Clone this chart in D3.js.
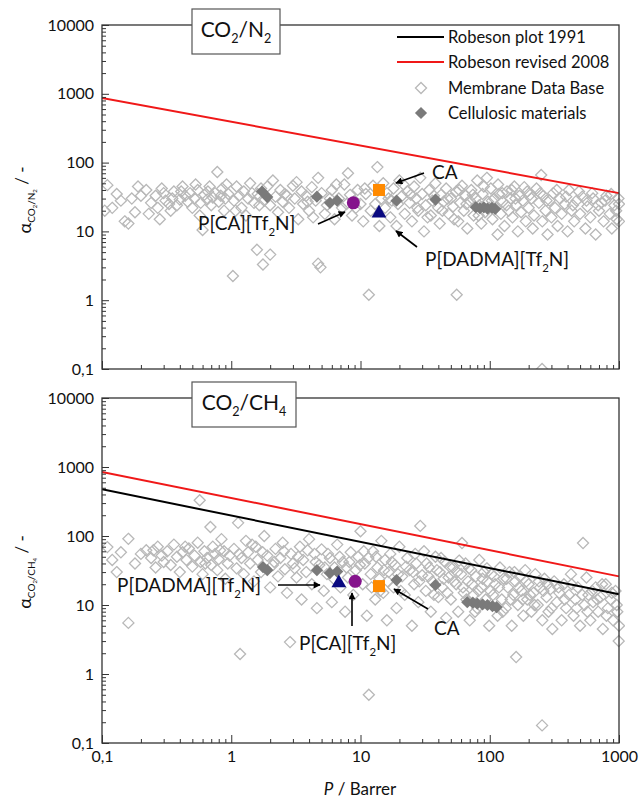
<!DOCTYPE html>
<html>
<head>
<meta charset="utf-8">
<script src="https://cdn.jsdelivr.net/npm/d3@7"></script>
<style>
  body { margin: 0; background: #fff; }
  svg text { font-family: Lato, "Open Sans", sans-serif; fill: #111; }
</style>
</head>
<body>
<svg id="chart" width="640" height="800"></svg>
<script>
// x domain and tick values
var xTicks = [0.1, 1, 10, 100, 1000];
var yTicks = [0.1, 1, 10, 100, 1000, 10000];

// Robeson upper bounds, endpoints [P, alpha]
var robeson2008N2 = [[0.1, 870], [1000, 36]];
var robeson2008CH4 = [[0.1, 850], [1000, 26]];
var robeson1991CH4 = [[0.1, 475], [1000, 14.3]];

// membrane data base, CO2/N2  [P, alpha]
var dbN2 = [
  [0.11,47],[0.12,22],[0.13,35],[0.14,28],[0.15,14],[0.16,13],[0.17,30],[0.18,19],[0.2,33],[0.22,40],
  [0.24,26],[0.26,33],[0.27,22],[0.28,15],[0.3,36],[0.31,28],[0.33,25],[0.35,30],[0.36,38],[0.38,24],
  [0.4,29],[0.42,45],[0.44,33],[0.46,27],[0.48,36],[0.5,22],[0.52,30],[0.55,40],[0.58,26],[0.6,10.5],
  [0.62,34],[0.65,29],[0.68,45],[0.7,24],[0.72,31],[0.75,36],[0.78,73],[0.8,27],[0.85,42],[0.88,20],
  [0.9,30],[0.95,35],
  [1.03,2.25],[1.05,28],[1.1,45],[1.15,33],[1.2,22],[1.25,38],[1.3,17],[1.35,30],[1.4,50],[1.5,26],
  [1.58,5.4],[1.6,35],[1.7,42],[1.76,3.3],[1.8,28],[2.0,4.6],[2.0,24],[2.1,55],[2.2,32],[2.3,19],
  [2.4,40],[2.5,27],[2.6,35],[2.8,22],[3.0,46],[3.1,30],[3.3,15],[3.5,38],[3.6,25],[3.8,33],
  [4.0,20],[4.2,44],[4.5,28],[4.7,60],[4.7,3.4],[4.9,3.0],[5.0,36],[5.3,18],[5.5,24],[6.0,40],
  [6.3,15],[6.8,30],[7.2,22],[7.5,48],[8.0,70],[8.3,34],[8.6,17],[9.0,28],[9.5,40],
  [10,25],[10.5,14],[11,35],[11.6,1.2],[12,20],[12.5,46],[13.5,86],[14,12],[14.5,30],[15,50],
  [15.5,22],[16,36],[17,16],[17.5,28],[18,42],[19,12],[19.5,25],[20,55],[21,33],[22,18],
  [23,38],[24,26],[25,14],[26,45],[27,30],[28,20],[29,60],[30,35],[31,10],[32,24],
  [34,40],[35,17],[36,28],[38,50],[40,22],[41,13],[42,34],[44,27],[46,42],[48,18],
  [50,30],[52,23],[55.5,1.2],[55,38],[57,14],[59,26],[61,46],[63,20],[65,33],[67,11],
  [70,28],[72,40],[75,17],[78,30],[80,55],[83,24],[86,13],[88,35],[92,19],[95,60],[97,27],
  [102,42],[105,15],[108,30],[112,22],[115,9],[118,35],[122,18],[126,27],[130,12],[136,38],
  [140,20],[145,30],[150,16],[155,45],[160,24],[165,10],[170,33],[175,19],[180,28],[190,14],
  [195,38],[200,22],[210,30],[215,11],[220,17],[230,42],[240,26],[250,66],[254,0.1],[255,14],
  [260,33],[270,20],[280,9],[290,28],[300,16],[310,36],[320,22],[335,12],[350,30],[360,18],
  [380,25],[400,10],[410,40],[430,20],[450,14],[470,28],[500,18],[520,32],[550,11],[570,23],
  [600,16],[630,30],[660,9],[700,20],[730,26],[760,14],[800,33],[850,18],[880,11],[920,24],
  [960,15],[990,30],
  [0.105,20],[0.19,45],[0.23,18],[0.29,42],[0.34,20],[0.41,38],[0.53,48],[0.57,17],[0.66,38],[0.83,33],
  [0.92,48],[1.08,20],[1.45,36],[1.65,24],[1.9,45],[2.7,33],[3.2,52],[3.9,27],[4.3,16],[5.8,30],
  [6.5,48],[7.8,25],[9.2,22],[10.8,42],[13,25],[16.5,30],[21.5,48],[24.5,34],[27.5,22],[33,16],
  [37,33],[43,20],[47,30],[53,15],[58,40],[66,25],[74,34],[82,17],[90,45],[99,22],
  [104,28],[116,48],[125,36],[135,24],[148,40],[158,30],[185,44],[205,34],[245,36],[275,28],
  [330,40],[390,32],[440,24],[490,38],[560,28],[620,36],[690,24],[780,28],[870,35],[950,20],
  [1000,25],[1000,14]
];

// membrane data base, CO2/CH4  [P, alpha]
var dbCH4 = [
  [0.11,69],[0.12,45],[0.14,58],[0.16,91],[0.16,5.5],[0.18,40],[0.2,55],[0.22,62],[0.24,48],[0.26,35],
  [0.27,70],[0.29,52],[0.3,42],[0.32,60],[0.34,38],[0.36,75],[0.38,50],[0.4,30],[0.42,58],[0.45,45],
  [0.47,66],[0.5,36],[0.52,52],[0.55,80],[0.57,330],[0.58,42],[0.6,28],[0.62,60],[0.65,48],[0.69,135],
  [0.7,38],[0.72,70],[0.75,55],[0.78,32],[0.8,46],[0.84,90],[0.88,60],[0.9,24],[0.94,40],[0.97,52],
  [1.05,65],[1.1,34],[1.13,155],[1.17,1.95],[1.2,48],[1.25,28],[1.3,85],[1.35,58],[1.4,40],[1.5,22],
  [1.55,70],[1.6,45],[1.7,30],[1.8,100],[1.9,52],[2.0,18],[2.1,38],[2.2,65],[2.3,26],[2.4,48],
  [2.5,80],[2.6,33],[2.7,15],[2.85,2.9],[2.9,55],[3.0,40],[3.2,25],[3.4,70],[3.5,12],[3.6,45],
  [3.8,30],[4.0,90],[4.2,20],[4.4,55],[4.6,9],[4.8,38],[5.0,64],[5.2,16],[5.5,28],[5.8,48],
  [6.0,11],[6.3,35],[6.6,75],[7.0,18],[7.3,42],[7.6,8],[8.0,25],[8.4,58],[8.8,14],[9.2,32],[9.6,50],
  [10,117],[10.4,20],[10.8,40],[11.2,7],[11.6,0.5],[12,28],[12.5,60],[13,12],[13.5,35],[14,24],
  [14.5,85],[15,15],[15.5,45],[16,6],[16.5,30],[17,55],[18,18],[18.5,38],[19,9],[20,70],
  [21,26],[22,14],[23,48],[24,32],[25,5],[26,20],[27,40],[28,11],[29,140],[30,27],
  [31,60],[32,16],[34,35],[35,8],[36,22],[38,50],[40,13],[41,30],[43,18],[45,42],
  [46,6.5],[48,25],[50,12],[52,35],[55,20],[57,8],[60,28],[61,79],[63,15],[65,40],
  [68,22],[70,6],[72,32],[75,14],[78,26],[80,9],[83,45],[86,18],[90,30],[93,12],[96,22],[99,5],
  [103,28],[106,14],[110,20],[115,7],[120,35],[124,12],[128,24],[133,9],[138,18],[142,30],
  [148,5],[152,14],[158,22],[160,1.76],[165,10],[170,26],[176,16],[182,7],[188,32],[195,12],
  [200,20],[210,8],[218,15],[225,28],[235,10],[245,18],[254,0.18],[255,6],[265,24],[275,13],
  [285,8],[295,17],[305,4.5],[315,22],[330,11],[345,15],[360,6],[375,20],[390,9],[410,14],
  [425,28],[445,7],[460,12],[480,18],[500,5],[527,79],[540,10],[560,25],[580,14],[600,6],
  [630,11],[660,18],[690,8],[720,13],[750,4.5],[790,20],[820,9],[860,12],[900,6],[940,16],
  [970,8],[995,3],
  [0.13,30],[0.25,62],[0.44,70],[0.63,40],[0.82,62],[1.15,55],[1.45,75],[1.75,58],[2.15,42],[2.55,60],
  [3.1,34],[3.3,50],[3.9,62],[4.5,42],[5.3,35],[5.6,55],[6.2,24],[6.9,50],[7.8,35],[8.2,42],
  [9.0,22],[9.9,38],[10.6,60],[11.5,48],[12.2,18],[13.2,50],[14.2,16],[15.2,32],[16.2,22],[17.5,42],
  [19.5,28],[20.5,16],[22.5,36],[25.5,30],[26.5,55],[28.5,22],[32.5,40],[33.5,26],[37,14],[39,32],
  [42,48],[44,24],[47,15],[49,36],[53,22],[56,30],[58,44],[62,18],[66,12],[69,34],
  [73,20],[77,8],[82,16],[88,24],[95,34],[101,16],[108,26],[118,18],[126,8],[135,24],
  [145,12],[155,30],[168,18],[180,12],[192,22],[205,14],[222,10],[240,22],[260,16],[280,20],
  [300,9],[340,18],[380,12],[430,20],[470,9],[520,14],[570,8],[620,16],[680,12],[740,20],
  [800,7],[880,15],[960,10],[1000,5]
];

// cellulosic materials
var celluN2 = [[1.73,38],[1.9,31.6],[4.6,32],[5.8,26],[6.6,28],[19,28],[38,29],
  [78,22.5],[84,21.8],[90,22.3],[96,21.5],[104,22],[110,21.3]];
var celluCH4 = [[1.76,35.5],[1.9,32],[4.6,32],[5.8,29],[6.6,30.5],[19,23],[38,19.5],
  [67,11],[74,10.8],[80,10.5],[88,10.2],[96,10],[105,9.6],[113,9.3]];

// this work: [P, alpha]
var caN2 = [13.9, 40], pcaN2 = [8.8, 26], dadmaN2 = [13.9, 19];
var caCH4 = [13.9, 18.8], pcaCH4 = [9.1, 22], dadmaCH4 = [6.8, 21.5];

var legendLabels = ["Robeson plot 1991", "Robeson revised 2008", "Membrane Data Base", "Cellulosic materials"];

var svg = d3.select("#chart");

svg.append("defs").append("marker")
    .attr("id", "arrow")
    .attr("viewBox", "0 0 10 10")
    .attr("refX", 9).attr("refY", 5)
    .attr("markerWidth", 8).attr("markerHeight", 7)
    .attr("markerUnits", "userSpaceOnUse")
    .attr("orient", "auto")
  .append("path")
    .attr("d", "M0,0L10,5L0,10z")
    .attr("fill", "#000");

var left = 102, right = 619;
var red = "#f01818";
var x = d3.scaleLog().domain([xTicks[0], xTicks[xTicks.length - 1]]).range([left, right]);

function fmt(v) { return String(v).replace(".", ","); }
function isMajor(v) { return Math.abs(Math.log10(v) - Math.round(Math.log10(v))) < 1e-6; }

function drawPanel(top, bottom, db, cellu, lines, showXLabels) {
  var y = d3.scaleLog().domain([yTicks[0], yTicks[yTicks.length - 1]]).range([bottom, top]);
  var g = svg.append("g");

  var clip = "clip" + top;
  g.append("clipPath").attr("id", clip)
    .append("rect").attr("x", left).attr("y", top - 6)
    .attr("width", right - left + 6).attr("height", bottom - top + 6);

  var plot = g.append("g").attr("clip-path", "url(#" + clip + ")");

  // membrane data base
  var dsym = d3.symbol().type(d3.symbolDiamond2).size(78);
  plot.selectAll(".db").data(db).enter().append("path")
      .attr("d", dsym)
      .attr("transform", function(d) { return "translate(" + x(d[0]) + "," + y(d[1]) + ")"; })
      .attr("fill", "none")
      .attr("stroke", "#b8b8b8")
      .attr("stroke-width", 1.3);

  // lines
  var line = d3.line().x(function(d) { return x(d[0]); }).y(function(d) { return y(d[1]); });
  lines.forEach(function(l) {
    plot.append("path").attr("d", line(l.data))
      .attr("fill", "none").attr("stroke", l.color).attr("stroke-width", 2);
  });

  // cellulosic
  var csym = d3.symbol().type(d3.symbolDiamond2).size(95);
  plot.selectAll(".cel").data(cellu).enter().append("path")
      .attr("d", csym)
      .attr("transform", function(d) { return "translate(" + x(d[0]) + "," + y(d[1]) + ")"; })
      .attr("fill", "#7a7a7a");

  // frame
  g.append("rect").attr("x", left).attr("y", top)
    .attr("width", right - left).attr("height", bottom - top)
    .attr("fill", "none").attr("stroke", "#333").attr("stroke-width", 1.3);

  // y axis
  var yAxis = d3.axisLeft(y).tickValues(y.ticks()).tickSize(-7).tickPadding(8).tickFormat(fmt);
  var ya = g.append("g").attr("transform", "translate(" + left + ",0)").call(yAxis);
  ya.select(".domain").remove();
  ya.selectAll(".tick line").attr("stroke", "#333").attr("stroke-width", 1)
    .attr("x2", function(d) { return isMajor(d) ? 7 : 4; });
  ya.selectAll(".tick text").filter(function(d) { return !isMajor(d); }).remove();
  ya.selectAll(".tick text").attr("font-size", 16).attr("font-family", "Lato").attr("fill", "#111");

  // x axis
  var xAxis = d3.axisBottom(x).tickValues(x.ticks()).tickSize(-8).tickPadding(8).tickFormat(fmt);
  var xa = g.append("g").attr("transform", "translate(0," + bottom + ")").call(xAxis);
  xa.select(".domain").remove();
  xa.selectAll(".tick line").attr("stroke", "#333").attr("stroke-width", 1)
    .attr("y2", function(d) { return isMajor(d) ? -8 : -4; });
  xa.selectAll(".tick text").filter(function(d) { return !showXLabels || !isMajor(d); }).remove();
  xa.selectAll(".tick text").attr("font-size", 16).attr("font-family", "Lato").attr("fill", "#111");

  return { g: g, y: y };
}

// text with subscripts: parts are strings or {sub: "2"}
function subText(parent, xp, yp, parts, size, anchor) {
  var t = parent.append("text").attr("x", xp).attr("y", yp)
    .attr("font-size", size).attr("text-anchor", anchor || "start");
  var shift = 0;
  parts.forEach(function(p) {
    if (typeof p === "string") {
      t.append("tspan").attr("dy", -shift).text(p);
      shift = 0;
    } else {
      shift = size * 0.3;
      t.append("tspan").attr("font-size", size * 0.6).attr("dy", shift).text(p.sub);
    }
  });
  return t;
}

function arrow(g, x1, y1, x2, y2) {
  g.append("line").attr("x1", x1).attr("y1", y1).attr("x2", x2).attr("y2", y2)
    .attr("stroke", "#000").attr("stroke-width", 1.6).attr("marker-end", "url(#arrow)");
}

function titleBox(g, bx, by, bw, bh, parts) {
  g.append("rect").attr("x", bx).attr("y", by).attr("width", bw).attr("height", bh)
    .attr("fill", "#fff").attr("stroke", "#555").attr("stroke-width", 1.2);
  subText(g, bx + bw / 2, by + 28, parts, 21, "middle");
}

function yLabel(cy, gasA, gasB) {
  var t = svg.append("text")
    .attr("transform", "translate(31," + cy + ") rotate(-90)")
    .attr("text-anchor", "middle").attr("font-size", 18).attr("fill", "#333");
  t.append("tspan").text("\u03b1");
  t.append("tspan").attr("font-size", 10).attr("dy", 4).text("CO");
  t.append("tspan").attr("font-size", 6).attr("dy", 2).text("2");
  t.append("tspan").attr("font-size", 10).attr("dy", -2).text("/" + gasA);
  t.append("tspan").attr("font-size", 6).attr("dy", 2).text(gasB);
  t.append("tspan").attr("font-size", 17).attr("dy", -9).text(" / -");
}

function thisWork(g, y, pca, ca, dadma) {
  g.append("circle").attr("cx", x(pca[0])).attr("cy", y(pca[1])).attr("r", 6.5).attr("fill", "#85138c");
  g.append("rect").attr("x", x(ca[0]) - 6).attr("y", y(ca[1]) - 6).attr("width", 12).attr("height", 12).attr("fill", "#ff8a00");
  g.append("path").attr("d", d3.symbol().type(d3.symbolTriangle).size(95))
    .attr("transform", "translate(" + x(dadma[0]) + "," + (y(dadma[1]) + 1) + ")").attr("fill", "#0a0a80");
}

// ---- top panel: CO2/N2
var top1 = drawPanel(25, 369, dbN2, celluN2, [{ data: robeson2008N2, color: red }], false);
var g1 = top1.g;
thisWork(g1, top1.y, pcaN2, caN2, dadmaN2);
titleBox(g1, 192, 9, 88, 45, ["CO", { sub: "2" }, "/N", { sub: "2" }]);

// legend
var leg = svg.append("g");
leg.append("line").attr("x1", 397).attr("x2", 444).attr("y1", 37).attr("y2", 37).attr("stroke", "#000").attr("stroke-width", 2);
leg.append("line").attr("x1", 397).attr("x2", 444).attr("y1", 62).attr("y2", 62).attr("stroke", red).attr("stroke-width", 2);
leg.append("path").attr("d", d3.symbol().type(d3.symbolDiamond2).size(78)).attr("transform", "translate(421,88)")
  .attr("fill", "none").attr("stroke", "#b8b8b8").attr("stroke-width", 1.3);
leg.append("path").attr("d", d3.symbol().type(d3.symbolDiamond2).size(95)).attr("transform", "translate(421,113)")
  .attr("fill", "#7a7a7a");
legendLabels.forEach(function(s, i) {
  leg.append("text").attr("x", 448).attr("y", 43 + i * 25.3).attr("font-size", 16.5).text(s);
});

// annotations top
subText(g1, 432, 179, ["CA"], 19);
arrow(g1, 424, 173, 396, 183);
subText(g1, 198, 230, ["P[CA][Tf", { sub: "2" }, "N]"], 19);
arrow(g1, 318, 224, 345, 212);
subText(g1, 425, 266, ["P[DADMA][Tf", { sub: "2" }, "N]"], 19);
arrow(g1, 417, 247, 396, 231);

// ---- bottom panel: CO2/CH4
var bot = drawPanel(398, 743, dbCH4, celluCH4,
  [{ data: robeson2008CH4, color: red }, { data: robeson1991CH4, color: "#000" }], true);
var g2 = bot.g;
thisWork(g2, bot.y, pcaCH4, caCH4, dadmaCH4);
titleBox(g2, 192, 382, 104, 45, ["CO", { sub: "2" }, "/CH", { sub: "4" }]);

subText(g2, 117, 592, ["P[DADMA][Tf", { sub: "2" }, "N]"], 19);
arrow(g2, 278, 585, 320, 585);
subText(g2, 299, 650, ["P[CA][Tf", { sub: "2" }, "N]"], 19);
arrow(g2, 352, 626, 352, 593);
subText(g2, 434, 635, ["CA"], 19);
arrow(g2, 428, 609, 394, 589);

// axis titles
yLabel(200, "N", "2");
yLabel(572, "CH", "4");

var xl = svg.append("text").attr("x", 360).attr("y", 795).attr("text-anchor", "middle").attr("font-size", 17);
xl.append("tspan").attr("font-style", "italic").text("P");
xl.append("tspan").text(" / Barrer");
</script>
</body>
</html>
